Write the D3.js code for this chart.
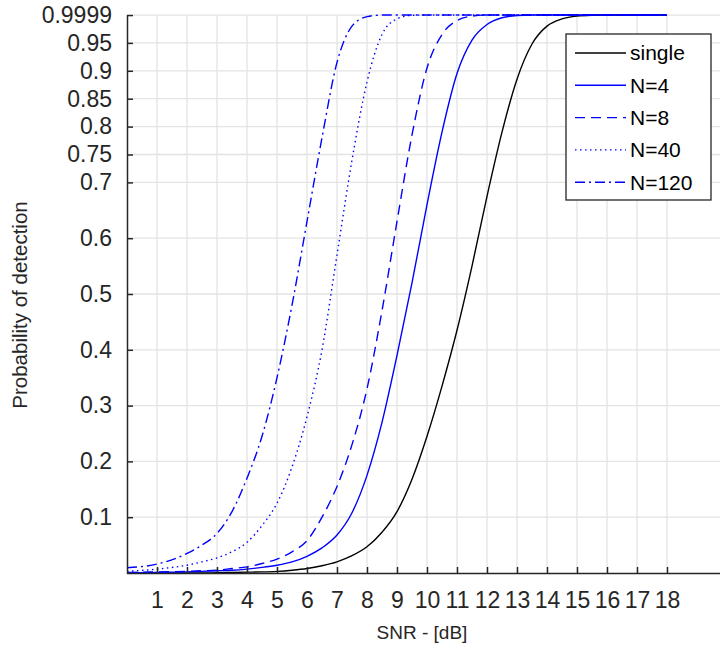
<!DOCTYPE html>
<html>
<head>
<meta charset="utf-8">
<script src="https://cdn.jsdelivr.net/npm/d3@7"></script>
<style>
  html, body { margin: 0; padding: 0; background: #fff; }
  svg { display: block; font-family: "Liberation Sans", Arial, sans-serif; }
</style>
</head>
<body>
<svg id="chart" width="720" height="651"></svg>
<script>
// SNR samples (dB) shared by every curve
const snr = [0, 1, 2, 2.5, 3, 3.5, 4, 4.5, 5, 5.5, 6, 6.5, 7, 7.5, 8, 8.5, 9, 9.5,
  10, 10.5, 11, 11.5, 12, 12.5, 13, 13.5, 14, 14.5, 15, 15.5, 16, 17, 18];

// probability of detection
const pdSingle = [0, 0, 0, 0, 0.0005, 0.001, 0.0015, 0.002, 0.003, 0.005, 0.008, 0.013, 0.02, 0.031, 0.047, 0.073,
  0.11, 0.168, 0.245, 0.335, 0.435, 0.55, 0.675, 0.79, 0.885, 0.948, 0.98, 0.993, 0.998, 0.9995, 0.9999, 0.9999, 0.9999];
const pdN4 = [0, 0.001, 0.002, 0.003, 0.004, 0.005, 0.007, 0.01, 0.014, 0.02, 0.03, 0.045, 0.068, 0.108,
  0.175, 0.27, 0.39, 0.52, 0.66, 0.79, 0.895, 0.955, 0.983, 0.995, 0.999, 0.9999, 0.9999, 0.9999, 0.9999, 0.9999, 0.9999, 0.9999, 0.9999];
const pdN8 = [0.001, 0.002, 0.003, 0.004, 0.005, 0.008, 0.011, 0.017, 0.025, 0.038, 0.058, 0.1, 0.155, 0.23,
  0.33, 0.47, 0.63, 0.785, 0.905, 0.965, 0.99, 0.998, 0.9999, 0.9999, 0.9999, 0.9999, 0.9999, 0.9999, 0.9999, 0.9999, 0.9999, 0.9999, 0.9999];
const pdN40 = [0.003, 0.007, 0.014, 0.02, 0.027, 0.038, 0.055, 0.085, 0.125, 0.19, 0.28, 0.4, 0.57, 0.74,
  0.88, 0.965, 0.993, 0.9995, 0.9999, 0.9999, 0.9999, 0.9999, 0.9999, 0.9999, 0.9999, 0.9999, 0.9999, 0.9999, 0.9999, 0.9999, 0.9999, 0.9999, 0.9999];
const pdN120 = [0.0095, 0.016, 0.035, 0.05, 0.071, 0.11, 0.17, 0.245, 0.35, 0.48, 0.63, 0.78, 0.915, 0.98,
  0.997, 0.9999, 0.9999, 0.9999, 0.9999, 0.9999, 0.9999, 0.9999, 0.9999, 0.9999, 0.9999, 0.9999, 0.9999, 0.9999, 0.9999, 0.9999, 0.9999, 0.9999, 0.9999];

const seriesNames = ["single", "N=4", "N=8", "N=40", "N=120"];
const xTicks = [1, 2, 3, 4, 5, 6, 7, 8, 9, 10, 11, 12, 13, 14, 15, 16, 17, 18];
const yTicks = [0.1, 0.2, 0.3, 0.4, 0.5, 0.6, 0.7, 0.75, 0.8, 0.85, 0.9, 0.95, 0.9999];

const series = [
  { name: seriesNames[0], values: pdSingle, color: "#000", dash: null },
  { name: seriesNames[1], values: pdN4, color: "#0000ff", dash: null },
  { name: seriesNames[2], values: pdN8, color: "#0000ff", dash: "10,6" },
  { name: seriesNames[3], values: pdN40, color: "#0000ff", dash: "1.5,3.5" },
  { name: seriesNames[4], values: pdN120, color: "#0000ff", dash: "10,4,2,4" },
];

const svg = d3.select("#chart");
const plotLeft = 127, plotBottom = 573, plotTop = 15;

const x = d3.scaleLinear().domain([0, 19.8]).range([plotLeft, 721]);
const y = d3.scaleLinear().domain([0, 1]).range([plotBottom, plotTop]);

// grid
const grid = svg.append("g").attr("stroke", "#e3e3e3").attr("stroke-width", 1.3);
grid.selectAll(".gx").data(xTicks).join("line")
  .attr("x1", d => x(d)).attr("x2", d => x(d))
  .attr("y1", y(0.9999)).attr("y2", plotBottom);
grid.selectAll(".gy").data(yTicks).join("line")
  .attr("x1", plotLeft).attr("x2", 720)
  .attr("y1", d => y(d)).attr("y2", d => y(d));

// curves
const line = d3.line()
  .x((d, i) => x(snr[i]))
  .y(d => y(d))
  .curve(d3.curveMonotoneX);

svg.append("g").selectAll("path").data(series).join("path")
  .attr("fill", "none")
  .attr("stroke", d => d.color)
  .attr("stroke-width", 1.4)
  .attr("stroke-dasharray", d => d.dash)
  .attr("d", d => line(d.values));

// axes
const xAxis = svg.append("g")
  .attr("transform", "translate(0," + plotBottom + ")")
  .call(d3.axisBottom(x).tickValues(xTicks).tickSizeInner(-6).tickSizeOuter(0).tickPadding(19));
xAxis.select(".domain").attr("d", "M" + plotLeft + ",0.5H720");

const yAxis = svg.append("g")
  .attr("transform", "translate(" + plotLeft + ",0)")
  .call(d3.axisLeft(y).tickValues(yTicks).tickSizeInner(-6).tickSizeOuter(0).tickPadding(15)
    .tickFormat(d => String(d)));
yAxis.select(".domain").attr("d", "M0.5," + y(0.9999) + "V" + (plotBottom + 1));

svg.selectAll(".domain, .tick line").attr("stroke", "#262626").attr("stroke-width", 1.5);
svg.selectAll(".tick text").attr("fill", "#262626").attr("font-size", 23)
  .attr("font-family", "Liberation Sans, Arial, sans-serif");

// axis labels
svg.append("text")
  .attr("x", 422).attr("y", 639)
  .attr("text-anchor", "middle")
  .attr("font-size", 19).attr("fill", "#262626")
  .text("SNR - [dB]");

svg.append("text")
  .attr("transform", "translate(27,305) rotate(-90)")
  .attr("text-anchor", "middle")
  .attr("font-size", 20.5).attr("fill", "#262626")
  .text("Probability of detection");

// legend
const legend = svg.append("g").attr("transform", "translate(566,34)");
legend.append("rect")
  .attr("width", 145).attr("height", 166)
  .attr("fill", "#fff").attr("stroke", "#262626").attr("stroke-width", 1.3);
const row = legend.selectAll(".row").data(series).join("g")
  .attr("transform", (d, i) => "translate(0," + (19 + i * 32.3) + ")");
row.append("line")
  .attr("x1", 9).attr("x2", 60)
  .attr("stroke", d => d.color).attr("stroke-width", 1.4)
  .attr("stroke-dasharray", d => d.dash);
row.append("text")
  .attr("x", 64).attr("dy", "0.35em")
  .attr("font-size", 21).attr("fill", "#000")
  .text(d => d.name);
</script>
</body>
</html>
